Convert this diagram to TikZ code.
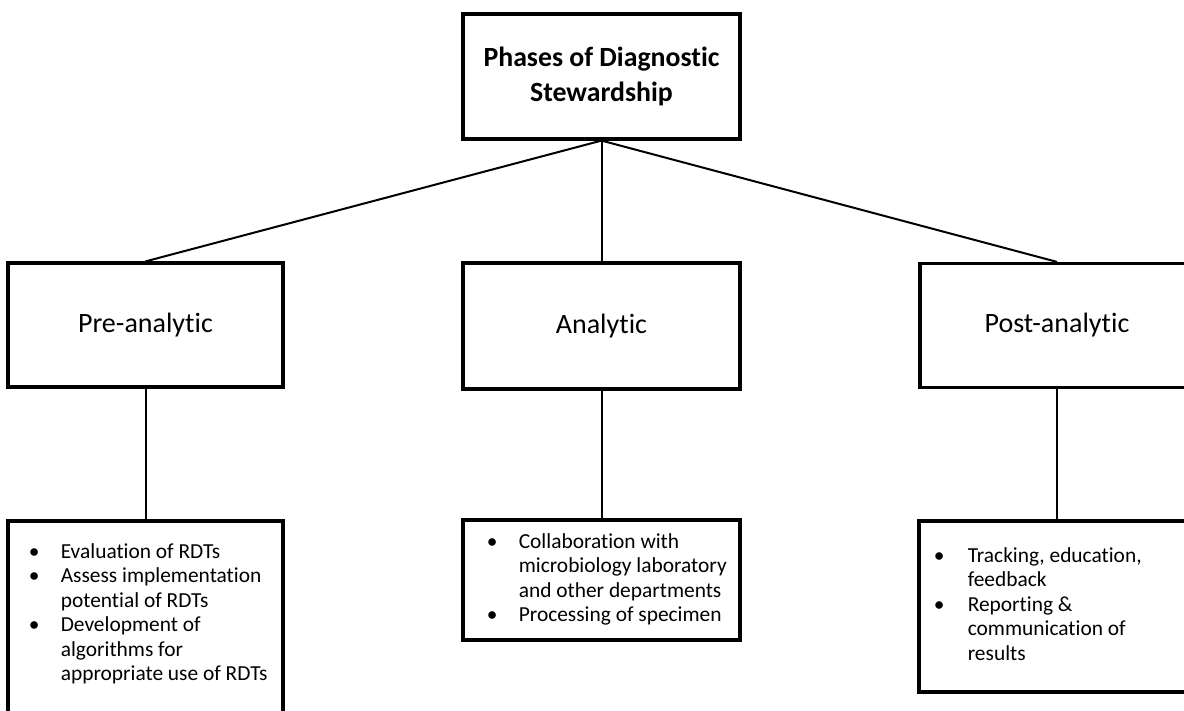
\documentclass[tikz,border=0pt]{standalone}
\usepackage{fontspec}
\setmainfont{Carlito}[Ligatures=NoCommon]
\usetikzlibrary{positioning}

\begin{document}
\begin{tikzpicture}[x=0.5pt,y=-0.5pt,
    phase/.style={draw,line width=1.6pt,minimum width=137.5pt,minimum height=62pt,inner sep=0pt,font=\fontsize{14}{16}\selectfont},
    listbox/.style={draw,line width=1.6pt,minimum width=137.5pt,inner sep=0pt},
    listtext/.style={anchor=west,inner sep=0pt,font=\fontsize{10.7}{12.25}\selectfont},
    link/.style={line width=1pt}]
    \useasboundingbox (0,0) rectangle (1184,711);
    \node[phase,minimum width=138.5pt,minimum height=62.5pt,align=center,font=\fontsize{13.9}{17.5}\selectfont\bfseries] (top) at (601.5,76.5) {Phases of Diagnostic\\Stewardship};
    \node[phase] (pre) at (145.5,325) {Pre-analytic};
    \node[phase,minimum width=138.5pt,minimum height=63pt] (ana) at (601.5,326) {Analytic};
    \node[phase,minimum width=137pt] (post) at (1057,325.5) {Post-analytic};
    \node[listbox,minimum height=96.5pt] (prelist) at (145.5,617.5) {};
    \node[listbox,minimum width=138.5pt,minimum height=60pt] (analist) at (601.5,580) {};
    \node[listbox,minimum width=138pt,minimum height=85.5pt] (postlist) at (1057,606.5) {};
    \node[listtext,yshift=1.5pt] (pretext) at ([xshift=11pt]prelist.west) {\begin{tabular}{@{}p{16pt}@{}l@{}}
        \textbullet & Evaluation of RDTs\\
        \textbullet & Assess implementation\\
        & potential of RDTs\\
        \textbullet & Development of\\
        & algorithms for\\
        & appropriate use of RDTs
    \end{tabular}};
    \node[listtext] (anatext) at ([xshift=12.5pt]analist.west) {\begin{tabular}{@{}p{16pt}@{}l@{}}
        \textbullet & Collaboration with\\
        & microbiology laboratory\\
        & and other departments\\
        \textbullet & Processing of specimen
    \end{tabular}};
    \node[listtext] (posttext) at ([xshift=8pt]postlist.west) {\begin{tabular}{@{}p{17pt}@{}l@{}}
        \textbullet & Tracking, education,\\
        & feedback\\
        \textbullet & Reporting \&\\
        & communication of\\
        & results
    \end{tabular}};
    \draw[link] (top.south) -- (pre.north);
    \draw[link] (top.south) -- (ana.north);
    \draw[link] (top.south) -- (post.north);
    \draw[link] (pre.south) -- (prelist.north);
    \draw[link] (ana.south) -- (analist.north);
    \draw[link] (post.south) -- (postlist.north);
\end{tikzpicture}
\end{document}
